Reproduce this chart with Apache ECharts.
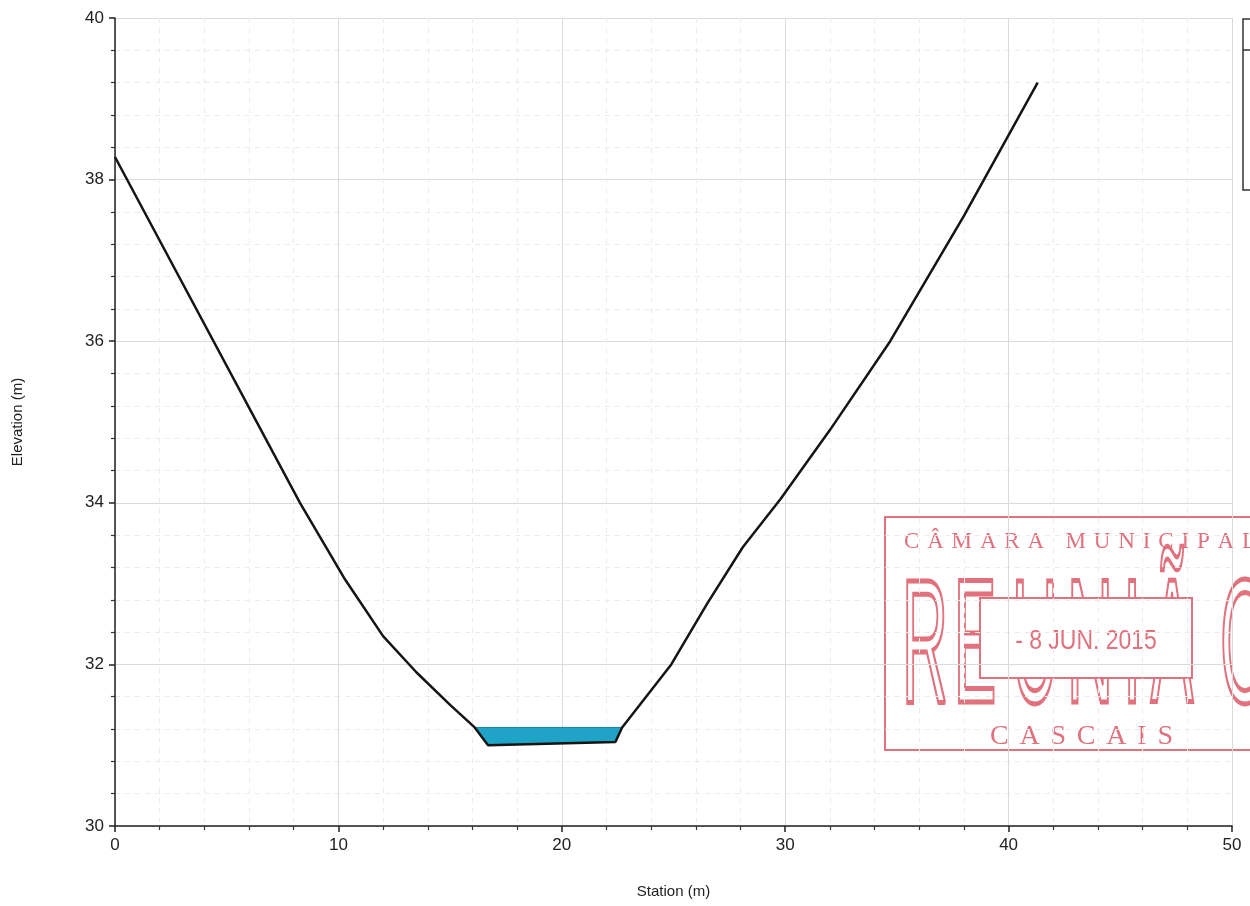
<!DOCTYPE html>
<html><head><meta charset="utf-8">
<script src="https://cdn.jsdelivr.net/npm/echarts@6/dist/echarts.min.js"></script>
<style>html,body{margin:0;padding:0;background:#fff}#c{width:1250px;height:906px}</style>
</head><body><div id="c"></div>
<script>
// Ground profile (Station m, Elevation m)
const station   = [0, 8.28, 10.3, 12.0, 13.5, 15.0, 16.1, 16.7, 22.4, 22.7, 24.9, 26.5, 28.1, 29.8, 32.0, 34.7, 38.0, 41.3];
const elevation = [38.28, 34.0, 33.05, 32.35, 31.9, 31.5, 31.22, 31.0, 31.04, 31.22, 32.0, 32.75, 33.45, 34.05, 34.9, 36.0, 37.55, 39.2];
// Water polygon
const waterStation = [16.1, 16.7, 22.4, 22.7];
const waterElev    = [31.22, 31.0, 31.04, 31.22];
// Axes
const xName = 'Station (m)';
const yName = 'Elevation (m)';
// Stamp texts
const stampTitle = 'CÂMARA MUNICIPAL';
const stampWord  = ['R','E','U','N','I','Ã','O'];
const stampDate  = '- 8 JUN. 2015';
const stampTown  = 'CASCAIS';

const RED = '#e0717d';
const ctx = document.createElement('canvas').getContext('2d');
function spacedChars(text, font, x0, totalW, y, z) {
  ctx.font = font;
  const ws = [...text].map(c => ctx.measureText(c).width);
  const nat = ws.reduce((a, b) => a + b, 0);
  const sp = (totalW - nat) / (ws.length - 1);
  let x = x0; const out = [];
  [...text].forEach((c, i) => {
    out.push({type: 'text', x: x, y: y, z: z, silent: true,
      style: {text: c, font: font, fill: RED, align: 'left', verticalAlign: 'bottom'}});
    x += ws[i] + sp;
  });
  return out;
}
const bigX = [925, 975, 1035, 1090, 1132, 1172, 1245];
const stamp = [];
stamp.push({type: 'rect', z: -5, silent: true, shape: {x: 885, y: 517, width: 420, height: 233},
  style: {fill: 'none', stroke: RED, lineWidth: 2}});
stamp.push(...spacedChars(stampTitle, '23px "Liberation Serif"', 904, 352, 553, -5));
stampWord.forEach((c, i) => {
  stamp.push({type: 'text', x: bigX[i], y: 653, z: -5, scaleX: 0.36, silent: true,
    style: {text: c, font: '177px "Liberation Sans"', fill: 'none', stroke: RED, lineWidth: 5,
      align: 'center', verticalAlign: 'middle'}});
});
stamp.push({type: 'rect', z: -4, silent: true, shape: {x: 980, y: 598, width: 212, height: 80},
  style: {fill: '#fff', stroke: RED, lineWidth: 2}});
stamp.push({type: 'text', x: 1086, y: 641, z: -4, scaleX: 0.82, silent: true,
  style: {text: stampDate, font: '28px "Liberation Sans"', fill: RED, align: 'center', verticalAlign: 'middle'}});
stamp.push(...spacedChars(stampTown, '28px "Liberation Serif"', 990, 183, 751, -4));

const legendBox = [
  {type: 'rect', silent: true, shape: {x: 1243, y: 19, width: 40, height: 171},
    style: {fill: 'none', stroke: '#333', lineWidth: 1.5}},
  {type: 'line', silent: true, shape: {x1: 1243, y1: 50, x2: 1250, y2: 50},
    style: {stroke: '#333', lineWidth: 1.5}}
];

const chart = echarts.init(document.getElementById('c'), null, {renderer: 'canvas'});
chart.setOption({
  animation: false,
  backgroundColor: '#fff',
  grid: {left: 115, right: 18, top: 18, bottom: 80},
  xAxis: {
    type: 'value', min: 0, max: 50, interval: 10,
    name: xName, nameLocation: 'middle', nameGap: 58,
    nameTextStyle: {fontFamily: 'Liberation Sans', fontSize: 15, color: '#222'},
    axisLine: {show: true, onZero: false, lineStyle: {color: '#222', width: 1.5}},
    axisTick: {show: true, length: 6, lineStyle: {color: '#222', width: 1.5}},
    minorTick: {show: true, splitNumber: 5, length: 4, lineStyle: {color: '#333', width: 1.2}},
    axisLabel: {fontFamily: 'Liberation Sans', fontSize: 17, color: '#222', margin: 11},
    splitLine: {show: true, lineStyle: {color: '#dadada', width: 1}},
    minorSplitLine: {show: true, lineStyle: {color: '#ebebeb', width: 1, type: [5, 5]}}
  },
  yAxis: {
    type: 'value', min: 30, max: 40, interval: 2,
    name: yName, nameLocation: 'middle', nameGap: 90,
    nameTextStyle: {fontFamily: 'Liberation Sans', fontSize: 15, color: '#222'},
    axisLine: {show: true, onZero: false, lineStyle: {color: '#222', width: 1.5}},
    axisTick: {show: true, length: 6, lineStyle: {color: '#222', width: 1.5}},
    minorTick: {show: true, splitNumber: 5, length: 4, lineStyle: {color: '#333', width: 1.2}},
    axisLabel: {fontFamily: 'Liberation Sans', fontSize: 17, color: '#222', margin: 11},
    splitLine: {show: true, lineStyle: {color: '#dadada', width: 1}},
    minorSplitLine: {show: true, lineStyle: {color: '#ebebeb', width: 1, type: [5, 5]}}
  },
  graphic: {elements: stamp.concat(legendBox)},
  series: [
    {
      type: 'custom', z: 2,
      data: waterStation.map((s, i) => [s, waterElev[i]]),
      renderItem: function (params, api) {
        if (params.dataIndex !== 0) return null;
        const pts = waterStation.map((s, i) => api.coord([s, waterElev[i]]));
        return {type: 'polygon', shape: {points: pts},
          style: {fill: '#1fa3c6', stroke: '#1b7f9e', lineWidth: 1}};
      }
    },
    {
      type: 'line', z: 3,
      data: station.map((s, i) => [s, elevation[i]]),
      showSymbol: false, symbol: 'none',
      lineStyle: {color: '#151515', width: 2.5}
    }
  ]
});
</script></body></html>
